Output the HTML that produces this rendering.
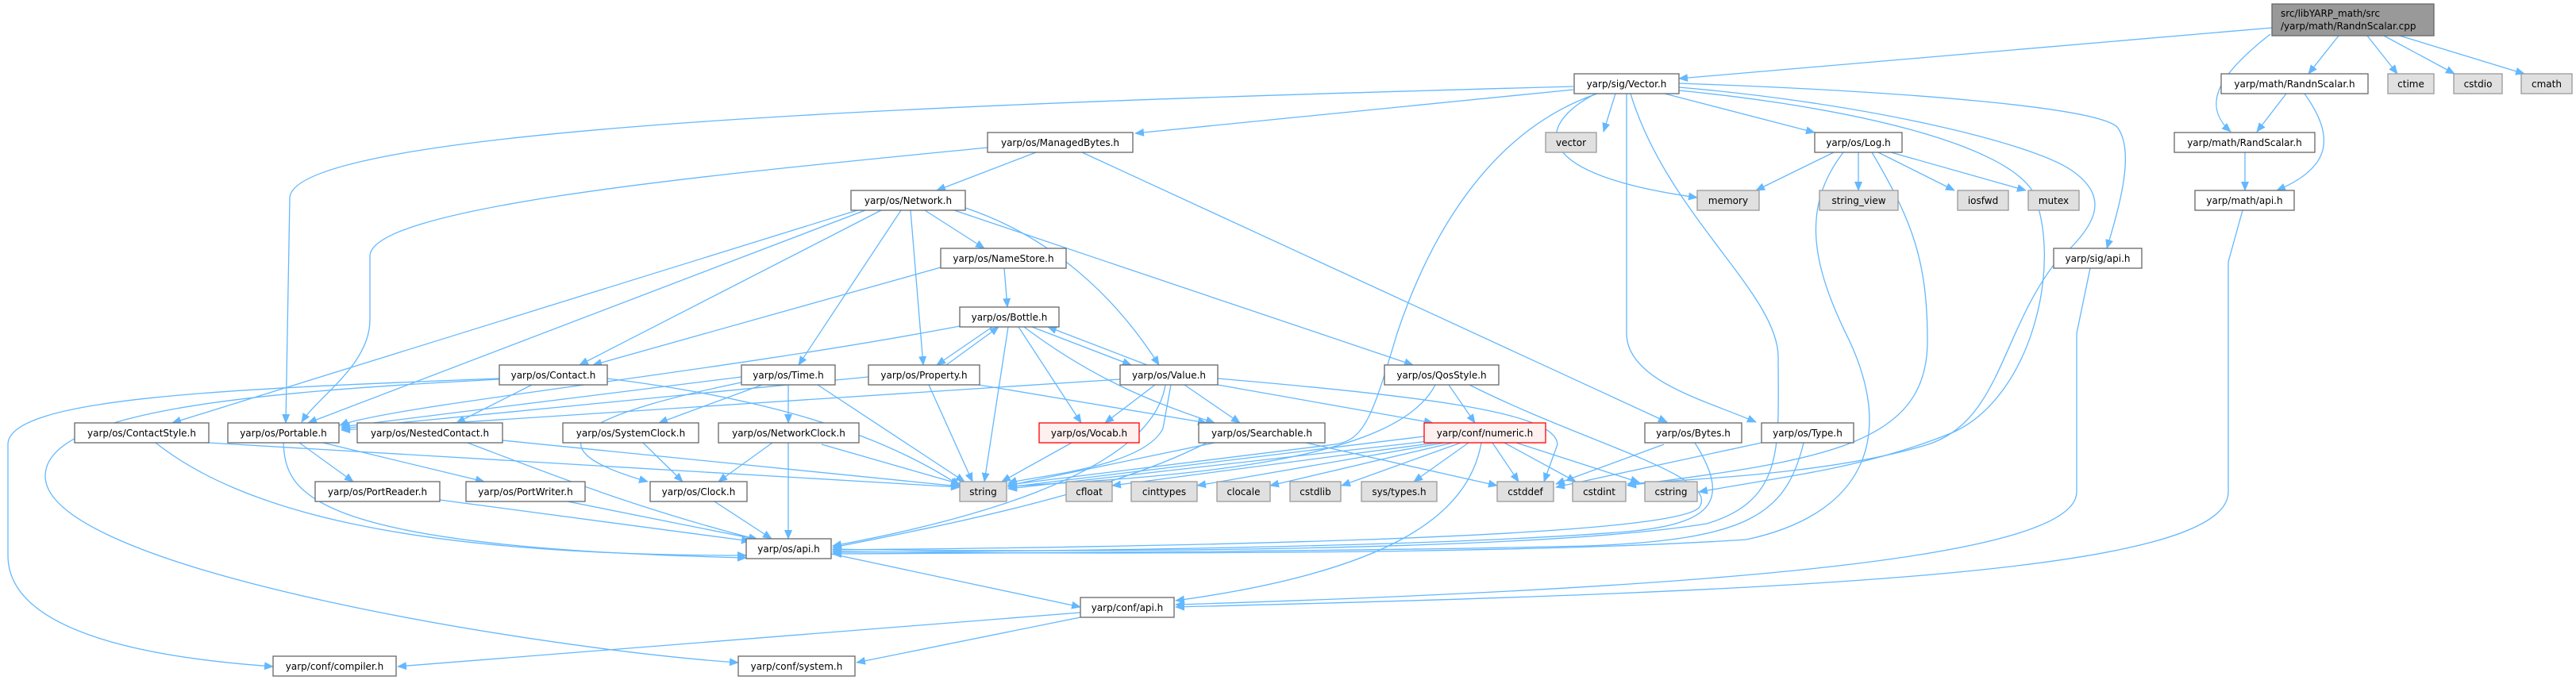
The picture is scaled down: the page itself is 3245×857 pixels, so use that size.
<!DOCTYPE html>
<html><head><meta charset="utf-8">
<style>
html,body{margin:0;padding:0;background:#fff;}
svg{display:block;}
text{font-family:"DejaVu Sans","Liberation Sans",sans-serif;font-size:12px;fill:#000;}
.n{fill:#fff;stroke:#666;stroke-width:1.3;}
.g{fill:#e0e0e0;stroke:#999;stroke-width:1.3;}
.r{fill:#fff0f0;stroke:#f00;stroke-width:1.3;}
.e{fill:none;stroke:#63b8ff;stroke-width:1.3;marker-end:url(#a);}
</style></head><body>
<svg width="3245" height="857" viewBox="0 0 3245 857" xmlns="http://www.w3.org/2000/svg">
<defs><marker id="a" markerWidth="12" markerHeight="10" refX="11" refY="5" orient="auto" markerUnits="userSpaceOnUse"><path d="M0,0 L12,5 L0,10 z" fill="#63b8ff"/></marker></defs>

<g>
<path class="e" d="M2862,35 L2115,99"/>
<path class="e" d="M2946,45 L2908,93"/>
<path class="e" d="M2982,45 L3020,93"/>
<path class="e" d="M3003,45 L3092,93"/>
<path class="e" d="M3023,45 L3180,93"/>
<path class="e" d="M2860,43 C2800,90 2770,130 2810,166"/>
<path class="e" d="M2880,118 L2843,166"/>
<path class="e" d="M2903,118 C2940,170 2940,210 2868,240"/>
<path class="e" d="M2828,192 L2828,240"/>
<path class="e" d="M2825,265 L2807,330 L2807,620 C2807,720 2300,745 1481,765"/>
<path class="e" d="M2633,338 L2616,420 L2616,620 C2616,700 2200,740 1481,762"/>

<path class="e" d="M2115,105 C2400,115 2640,135 2667,160 C2690,190 2670,260 2654,313"/>
<path class="e" d="M2097,118 L2286,167"/>
<path class="e" d="M2010,118 C1930,160 1930,220 2138,249"/>
<path class="e" d="M2035,118 L2020,166"/>
<path class="e" d="M1982,113 L1430,168"/>
<path class="e" d="M1982,109 C1200,130 365,160 365,250 L360,533"/>
<path class="e" d="M2012,118 C1860,170 1790,330 1760,420 C1730,520 1720,555 1682,560 L1270,611"/>
<path class="e" d="M2054,118 C2100,270 2240,370 2240,450 C2240,560 2250,630 2150,660 C1900,700 1200,695 1049,692"/>
<path class="e" d="M2049,118 L2049,420 C2049,480 2150,505 2212,532"/>
<path class="e" d="M2115,110 C2350,130 2560,180 2610,215 C2660,250 2640,285 2590,330 C2520,420 2520,530 2429,560 C2300,600 2100,605 2050,610"/>
<path class="e" d="M2115,114 C2330,135 2520,180 2560,240 C2600,330 2560,500 2460,545 C2350,590 2250,600 2140,620"/>

<path class="e" d="M2310,192 L2212,240"/>
<path class="e" d="M2341,192 L2341,240"/>
<path class="e" d="M2366,192 L2462,240"/>
<path class="e" d="M2382,192 L2552,240"/>
<path class="e" d="M2322,192 C2270,260 2280,330 2330,430 C2390,560 2340,650 2200,680 C1900,700 1300,698 1049,695"/>
<path class="e" d="M2358,192 C2410,280 2428,330 2428,430 C2428,560 2300,580 2050,612"/>

<path class="e" d="M1305,192 L1180,240"/>
<path class="e" d="M1244,186 C900,220 466,260 466,323 L466,403 C466,460 400,500 380,532"/>
<path class="e" d="M1363,192 L2100,532"/>

<path class="e" d="M1165,265 L1240,313"/>
<path class="e" d="M1147,265 L1163,460"/>
<path class="e" d="M1216,262 C1300,290 1390,350 1460,460"/>
<path class="e" d="M1202,265 L1780,460"/>
<path class="e" d="M1110,265 L730,460"/>
<path class="e" d="M1185,337 L747,460"/>
<path class="e" d="M1135,265 L1006,460"/>
<path class="e" d="M1080,265 L217,533"/>
<path class="e" d="M1090,265 L388,533"/>

<path class="e" d="M1265,338 L1269,387"/>
<path class="e" d="M1250,412 L1180,460"/>
<path class="e" d="M1192,460 L1258,412"/>
<path class="e" d="M1300,412 L1425,460"/>
<path class="e" d="M1445,460 L1320,412"/>
<path class="e" d="M1270,412 L1240,607"/>
<path class="e" d="M1283,412 L1362,533"/>
<path class="e" d="M1290,412 C1380,480 1460,510 1530,533"/>
<path class="e" d="M1209,411 C900,470 500,510 428,536"/>

<path class="e" d="M1170,485 L1225,607"/>
<path class="e" d="M1233,485 L1520,533"/>
<path class="e" d="M1094,475 L430,540"/>

<path class="e" d="M1455,485 L1392,533"/>
<path class="e" d="M1492,485 L1562,533"/>
<path class="e" d="M1534,485 L1805,533"/>
<path class="e" d="M1475,485 L1465,540 C1440,590 1300,600 1270,609"/>
<path class="e" d="M1534,477 C1800,500 1960,520 1962,560 L1945,607"/>
<path class="e" d="M1411,478 L430,542"/>
<path class="e" d="M1468,485 C1450,600 1200,660 1049,688"/>

<path class="e" d="M1825,485 L1858,533"/>
<path class="e" d="M1808,485 C1760,580 1500,600 1270,613"/>
<path class="e" d="M1851,485 C2000,560 2170,600 2140,640 C2100,680 1400,690 1049,693"/>

<path class="e" d="M629,477 C300,490 10,500 10,560 L10,700 C10,800 200,830 344,840"/>
<path class="e" d="M629,478 C300,495 57,520 57,600 C57,720 700,820 930,835"/>
<path class="e" d="M670,485 L575,533"/>
<path class="e" d="M765,477 C950,500 1100,540 1209,612"/>

<path class="e" d="M960,485 L830,533"/>
<path class="e" d="M993,485 L993,533"/>
<path class="e" d="M1030,485 L1215,607"/>
<path class="e" d="M934,482 C750,520 650,560 816,607"/>
<path class="e" d="M934,475 L430,538"/>

<path class="e" d="M196,558 C300,640 500,700 940,700"/>
<path class="e" d="M263,558 L1209,614"/>
<path class="e" d="M377,558 L445,607"/>
<path class="e" d="M407,558 L610,607"/>
<path class="e" d="M357,558 C360,620 380,690 940,703"/>
<path class="e" d="M589,558 C700,600 800,640 954,680"/>
<path class="e" d="M633,555 L1209,613"/>
<path class="e" d="M810,558 L860,607"/>
<path class="e" d="M973,558 L905,607"/>
<path class="e" d="M993,558 L993,679"/>
<path class="e" d="M1035,560 L1209,610"/>
<path class="e" d="M900,632 L972,679"/>
<path class="e" d="M554,630 L945,682"/>
<path class="e" d="M715,632 L955,680"/>

<path class="e" d="M1350,558 L1262,607"/>
<path class="e" d="M1530,558 L1270,612"/>
<path class="e" d="M1645,558 L1886,612"/>
<path class="e" d="M1520,558 C1400,620 1200,660 1049,690"/>

<path class="e" d="M1794,550 L1270,614"/>
<path class="e" d="M1800,556 L1270,616"/>
<path class="e" d="M1810,558 L1401,612"/>
<path class="e" d="M1820,558 L1508,612"/>
<path class="e" d="M1830,558 L1600,612"/>
<path class="e" d="M1840,558 L1690,612"/>
<path class="e" d="M1850,558 L1781,607"/>
<path class="e" d="M1880,558 L1913,607"/>
<path class="e" d="M1895,558 L1985,607"/>
<path class="e" d="M1910,558 L2065,608"/>
<path class="e" d="M1866,558 C1850,650 1750,720 1481,757"/>

<path class="e" d="M2096,560 L1960,610"/>
<path class="e" d="M2135,558 C2180,630 2160,660 2050,670 C1800,690 1300,695 1049,696"/>
<path class="e" d="M2219,558 L1960,614"/>
<path class="e" d="M2272,558 C2250,650 2200,680 2000,688 C1700,695 1300,697 1049,698"/>

<path class="e" d="M1047,698 L1361,765"/>
<path class="e" d="M1361,772 L501,840"/>
<path class="e" d="M1361,778 L1079,835"/>
</g>

<g>
<rect x="2862" y="5" width="204" height="40" fill="#999" stroke="#666" stroke-width="1.3"/>
<text x="2873" y="21">src/libYARP_math/src</text>
<text x="2873" y="37">/yarp/math/RandnScalar.cpp</text>

<rect class="n" x="1983" y="93" width="132" height="25"/><text x="2049" y="110" text-anchor="middle">yarp/sig/Vector.h</text>
<rect class="n" x="2798" y="93" width="185" height="25"/><text x="2890.5" y="110" text-anchor="middle">yarp/math/RandnScalar.h</text>
<rect class="g" x="3008" y="93" width="58" height="25"/><text x="3037" y="110" text-anchor="middle">ctime</text>
<rect class="g" x="3091" y="93" width="61" height="25"/><text x="3121.5" y="110" text-anchor="middle">cstdio</text>
<rect class="g" x="3176" y="93" width="64" height="25"/><text x="3208" y="110" text-anchor="middle">cmath</text>

<rect class="n" x="1244" y="167" width="183" height="25"/><text x="1335.5" y="184" text-anchor="middle">yarp/os/ManagedBytes.h</text>
<rect class="g" x="1947" y="167" width="64" height="25"/><text x="1979" y="184" text-anchor="middle">vector</text>
<rect class="n" x="2286" y="167" width="110" height="25"/><text x="2341" y="184" text-anchor="middle">yarp/os/Log.h</text>
<rect class="n" x="2739" y="167" width="177" height="25"/><text x="2827.5" y="184" text-anchor="middle">yarp/math/RandScalar.h</text>

<rect class="n" x="1072" y="240" width="144" height="25"/><text x="1144" y="257" text-anchor="middle">yarp/os/Network.h</text>
<rect class="g" x="2138" y="240" width="78" height="25"/><text x="2177" y="257" text-anchor="middle">memory</text>
<rect class="g" x="2292" y="240" width="99" height="25"/><text x="2341.5" y="257" text-anchor="middle">string_view</text>
<rect class="g" x="2466" y="240" width="64" height="25"/><text x="2498" y="257" text-anchor="middle">iosfwd</text>
<rect class="g" x="2555" y="240" width="64" height="25"/><text x="2587" y="257" text-anchor="middle">mutex</text>
<rect class="n" x="2765" y="240" width="125" height="25"/><text x="2827.5" y="257" text-anchor="middle">yarp/math/api.h</text>

<rect class="n" x="1185" y="313" width="158" height="25"/><text x="1264" y="330" text-anchor="middle">yarp/os/NameStore.h</text>
<rect class="n" x="2587" y="313" width="111" height="25"/><text x="2642.5" y="330" text-anchor="middle">yarp/sig/api.h</text>

<rect class="n" x="1209" y="387" width="125" height="25"/><text x="1271.5" y="404" text-anchor="middle">yarp/os/Bottle.h</text>

<rect class="n" x="629" y="460" width="136" height="25"/><text x="697" y="477" text-anchor="middle">yarp/os/Contact.h</text>
<rect class="n" x="934" y="460" width="118" height="25"/><text x="993" y="477" text-anchor="middle">yarp/os/Time.h</text>
<rect class="n" x="1094" y="460" width="140" height="25"/><text x="1164" y="477" text-anchor="middle">yarp/os/Property.h</text>
<rect class="n" x="1411" y="460" width="123" height="25"/><text x="1472.5" y="477" text-anchor="middle">yarp/os/Value.h</text>
<rect class="n" x="1744" y="460" width="144" height="25"/><text x="1816" y="477" text-anchor="middle">yarp/os/QosStyle.h</text>

<rect class="n" x="94" y="533" width="169" height="25"/><text x="178.5" y="550" text-anchor="middle">yarp/os/ContactStyle.h</text>
<rect class="n" x="287" y="533" width="140" height="25"/><text x="357" y="550" text-anchor="middle">yarp/os/Portable.h</text>
<rect class="n" x="450" y="533" width="183" height="25"/><text x="541.5" y="550" text-anchor="middle">yarp/os/NestedContact.h</text>
<rect class="n" x="709" y="533" width="171" height="25"/><text x="794.5" y="550" text-anchor="middle">yarp/os/SystemClock.h</text>
<rect class="n" x="905" y="533" width="177" height="25"/><text x="993.5" y="550" text-anchor="middle">yarp/os/NetworkClock.h</text>
<rect class="r" x="1309" y="533" width="126" height="25"/><text x="1372" y="550" text-anchor="middle">yarp/os/Vocab.h</text>
<rect class="n" x="1510" y="533" width="159" height="25"/><text x="1589.5" y="550" text-anchor="middle">yarp/os/Searchable.h</text>
<rect class="r" x="1794" y="533" width="153" height="25"/><text x="1870.5" y="550" text-anchor="middle">yarp/conf/numeric.h</text>
<rect class="n" x="2072" y="533" width="122" height="25"/><text x="2133" y="550" text-anchor="middle">yarp/os/Bytes.h</text>
<rect class="n" x="2219" y="533" width="116" height="25"/><text x="2277" y="550" text-anchor="middle">yarp/os/Type.h</text>

<rect class="n" x="397" y="607" width="157" height="25"/><text x="475.5" y="624" text-anchor="middle">yarp/os/PortReader.h</text>
<rect class="n" x="587" y="607" width="150" height="25"/><text x="662" y="624" text-anchor="middle">yarp/os/PortWriter.h</text>
<rect class="n" x="819" y="607" width="122" height="25"/><text x="880" y="624" text-anchor="middle">yarp/os/Clock.h</text>
<rect class="g" x="1209" y="607" width="59" height="25"/><text x="1238.5" y="624" text-anchor="middle">string</text>
<rect class="g" x="1343" y="607" width="58" height="25"/><text x="1372" y="624" text-anchor="middle">cfloat</text>
<rect class="g" x="1425" y="607" width="83" height="25"/><text x="1466.5" y="624" text-anchor="middle">cinttypes</text>
<rect class="g" x="1533" y="607" width="67" height="25"/><text x="1566.5" y="624" text-anchor="middle">clocale</text>
<rect class="g" x="1625" y="607" width="64" height="25"/><text x="1657" y="624" text-anchor="middle">cstdlib</text>
<rect class="g" x="1715" y="607" width="95" height="25"/><text x="1762.5" y="624" text-anchor="middle">sys/types.h</text>
<rect class="g" x="1886" y="607" width="71" height="25"/><text x="1921.5" y="624" text-anchor="middle">cstddef</text>
<rect class="g" x="1981" y="607" width="67" height="25"/><text x="2014.5" y="624" text-anchor="middle">cstdint</text>
<rect class="g" x="2072" y="607" width="66" height="25"/><text x="2105" y="624" text-anchor="middle">cstring</text>

<rect class="n" x="940" y="679" width="107" height="25"/><text x="993.5" y="696" text-anchor="middle">yarp/os/api.h</text>
<rect class="n" x="1361" y="753" width="118" height="25"/><text x="1420" y="770" text-anchor="middle">yarp/conf/api.h</text>
<rect class="n" x="344" y="827" width="155" height="25"/><text x="421.5" y="844" text-anchor="middle">yarp/conf/compiler.h</text>
<rect class="n" x="930" y="827" width="147" height="25"/><text x="1003.5" y="844" text-anchor="middle">yarp/conf/system.h</text>
</g>
</svg>
</body></html>
